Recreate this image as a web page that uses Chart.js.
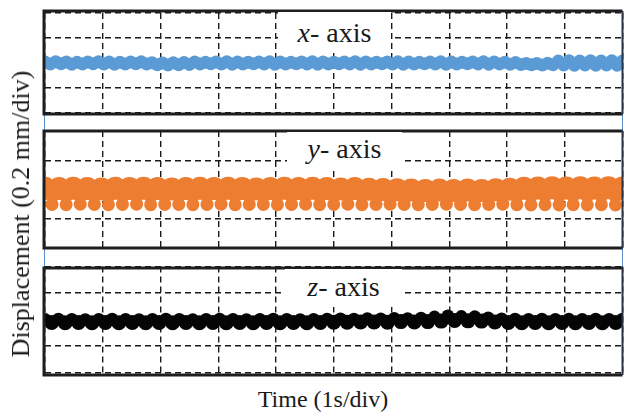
<!DOCTYPE html>
<html>
<head>
<meta charset="utf-8">
<script src="https://cdn.jsdelivr.net/npm/chart.js@4.4.1/dist/chart.umd.min.js"></script>
<style>
    body { margin: 0; width: 624px; height: 412px; background: #fff; position: relative; overflow: hidden; font-family: "Liberation Serif", serif; color: #1a1a1a; }
    canvas { position: absolute; left: 0; }
    .edge { position: absolute; top: 11px; height: 364px; width: 1px; background: #5b8fcb; }
    .tag { position: absolute; background: #fff; font-size: 28px; line-height: 28px; text-align: center; box-sizing: border-box; white-space: nowrap; z-index: 2; }
    #time-label { position: absolute; left: 223px; top: 387px; width: 200px; text-align: center; font-size: 24px; line-height: 24px; }
    #disp-label { position: absolute; left: 21px; top: 214px; font-size: 26px; line-height: 26px; white-space: nowrap; transform: translate(-50%, -50%) rotate(-90deg); }
</style>
</head>
<body>
<div class="edge" style="left:44px"></div>
<div class="edge" style="left:622px"></div>

<canvas id="chart-x" width="624" height="126" style="top:0"></canvas>
<canvas id="chart-y" width="624" height="132" style="top:126px"></canvas>
<canvas id="chart-z" width="624" height="122" style="top:258px"></canvas>

<div class="tag" style="left:278px; top:12px; width:113px; height:41px; padding-top:7px"><i>x</i>- axis</div>
<div class="tag" style="left:287px; top:132px; width:115px; height:36px; padding-top:3px"><i>y</i>- axis</div>
<div class="tag" style="left:285px; top:269px; width:117px; height:38px; padding-top:4px"><i>z</i>- axis</div>

<div id="time-label">Time (1s/div)</div>
<div id="disp-label">Displacement (0.2 mm/div)</div>

<script>
// time axis: 10 divisions of 1 s, displacement: 4 divisions per trace
const timeSpan = 10;
const divRange = 2;

// trace samples at every crest / trough, in div units
// x-axis trace
const xValues = [
    0.03, -0.05, 0.04, -0.04, 0.03, -0.06, 0.02, -0.05, 0.03, -0.04,
    0.04, -0.05, 0.03, -0.06, 0.02, -0.05, 0.03, -0.04, 0.04, -0.05,
    0.00, -0.08, -0.01, -0.09, 0.00, -0.08, 0.01, -0.07, 0.03, -0.05,
    0.02, -0.04, 0.03, -0.05, 0.04, -0.06, 0.03, -0.05, 0.02, -0.04,
    0.03, -0.05, 0.04, -0.06, 0.03, -0.05, 0.02, -0.04, 0.03, -0.05,
    0.04, -0.06, 0.03, -0.05, 0.02, -0.04, 0.03, -0.05, 0.04, -0.06,
    0.03, -0.05, 0.02, -0.04, 0.03, -0.05, 0.04, -0.06, 0.03, -0.05,
    0.02, -0.04, 0.03, -0.05, 0.04, -0.06, 0.03, -0.05, 0.02, -0.04,
    0.03, -0.05, 0.04, -0.06, 0.03, -0.05, 0.02, -0.06, 0.01, -0.07,
    -0.03, -0.08, -0.03, -0.09, -0.02, -0.08, 0.07, -0.09, 0.08, -0.10,
    0.07, -0.09, 0.08, -0.10, 0.07, -0.09, 0.08, -0.10, 0.07
];

// y-axis trace
const yValues = [
    0.04, -0.51, 0.03, -0.52, 0.04, -0.50, 0.03, -0.51, 0.02, -0.52,
    0.04, -0.51, 0.03, -0.50, 0.04, -0.52, 0.03, -0.51, 0.02, -0.51,
    0.03, -0.52, 0.04, -0.51, 0.03, -0.50, 0.04, -0.52, 0.03, -0.51,
    0.02, -0.51, 0.03, -0.52, 0.04, -0.51, 0.03, -0.50, 0.04, -0.52,
    0.03, -0.51, 0.02, -0.50, 0.03, -0.52, 0.01, -0.51, 0.00, -0.50,
    -0.01, -0.51, -0.02, -0.52, -0.03, -0.51, -0.02, -0.50, -0.03, -0.51,
    -0.02, -0.52, -0.03, -0.51, -0.01, -0.50, 0.01, -0.52, 0.04, -0.53,
    0.05, -0.52, 0.06, -0.53, 0.05, -0.52, 0.06, -0.53, 0.05, -0.52,
    0.06, -0.53, 0.05
];

// z-axis trace
const zValues = [
    0.01, -0.11, 0.02, -0.12, 0.01, -0.11, 0.00, -0.12, 0.01, -0.11,
    0.02, -0.12, 0.01, -0.11, 0.00, -0.12, 0.01, -0.11, 0.02, -0.12,
    0.01, -0.11, 0.00, -0.12, 0.01, -0.11, 0.02, -0.12, 0.01, -0.11,
    0.00, -0.12, 0.01, -0.11, 0.02, -0.12, 0.01, -0.11, 0.00, -0.12,
    0.01, -0.11, 0.02, -0.10, 0.03, -0.10, 0.02, -0.09, 0.04, -0.09,
    0.03, -0.10, 0.05, -0.08, 0.04, -0.09, 0.06, -0.08, 0.10, -0.06,
    0.14, -0.04, 0.12, -0.05, 0.11, -0.06, 0.07, -0.09, 0.03, -0.11,
    0.02, -0.12, 0.01, -0.11, 0.02, -0.12, 0.01, -0.11, 0.02, -0.12,
    0.01, -0.11, 0.02, -0.12, 0.01, -0.11, 0.02
];

// solid frame round each trace, drawn over the dashed grid
const framePlugin = {
    id: 'frame',
    afterDraw(chart, args, opts) {
        const { ctx, chartArea: a } = chart;
        const top = a.top - opts.top;
        const bottom = a.bottom + opts.bottom;
        ctx.save();
        ctx.strokeStyle = '#1e1e1e';
        ctx.lineWidth = 3;
        ctx.beginPath();
        ctx.moveTo(a.left - 2.5, top);
        ctx.lineTo(a.right, top);
        ctx.moveTo(a.left - 2.5, bottom);
        ctx.lineTo(a.right, bottom);
        ctx.moveTo(a.left - 1, top - 1.5);
        ctx.lineTo(a.left - 1, bottom + 1.5);
        ctx.stroke();
        ctx.strokeStyle = '#2b3444';
        ctx.lineWidth = 2;
        ctx.beginPath();
        ctx.moveTo(a.right, top);
        ctx.lineTo(a.right, bottom);
        ctx.stroke();
        ctx.restore();
    }
};

function gridScale(min, max) {
    return {
        type: 'linear',
        min: min,
        max: max,
        ticks: { display: false, stepSize: 1 },
        grid: { color: '#1a1a1a', lineWidth: 1.4, drawTicks: false },
        border: { display: false, dash: [6, 4] }
    };
}

// crests get dots of rCrest, troughs of rTrough, joined by a line of the same colour
function makeTrace(canvasId, values, color, lineWidth, rCrest, rTrough, padding, frame) {
    return new Chart(document.getElementById(canvasId), {
        type: 'line',
        data: {
            datasets: [{
                data: values.map((v, i) => ({ x: i * timeSpan / (values.length - 1), y: v })),
                borderColor: color,
                borderWidth: lineWidth,
                borderJoinStyle: 'round',
                tension: 0,
                pointRadius: ctx => ctx.dataIndex % 2 ? rTrough : rCrest,
                pointBackgroundColor: color,
                pointBorderWidth: 0,
                pointHoverRadius: 0
            }]
        },
        options: {
            responsive: false,
            animation: false,
            events: [],
            layout: { padding: padding, autoPadding: false },
            plugins: {
                legend: { display: false },
                tooltip: { enabled: false },
                frame: frame
            },
            scales: {
                x: gridScale(0, timeSpan),
                y: gridScale(-divRange, divRange)
            }
        },
        plugins: [framePlugin]
    });
}

makeTrace('chart-x', xValues, '#5b9bd5', 8, 6.5, 6.5, { top: 13, bottom: 13.5, left: 45, right: 1.5 }, { top: 2, bottom: 1.5 });
makeTrace('chart-y', yValues, '#ed7d31', 6, 11.5, 6.5, { top: 5, bottom: 10, left: 45, right: 1.5 }, { top: 0, bottom: 0 });
makeTrace('chart-z', zValues, '#050505', 6, 6.25, 7.5, { top: 8.5, bottom: 7.5, left: 45, right: 1.5 }, { top: -1.5, bottom: 2.5 });
</script>
</body>
</html>
